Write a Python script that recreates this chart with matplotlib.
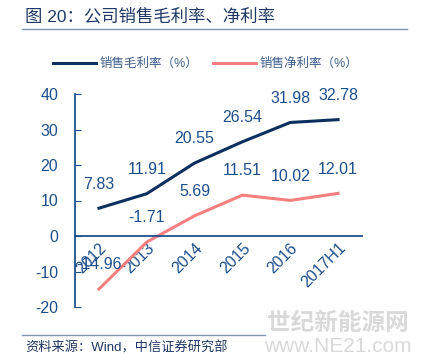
import matplotlib.pyplot as plt
import numpy as np

plt.rcParams['font.family'] = ['Liberation Sans', 'Noto Sans CJK SC', 'DejaVu Sans']
plt.rcParams['axes.unicode_minus'] = False

#---  data  ---
years = ['2012', '2013', '2014', '2015', '2016', '2017H1']
gross = [7.83, 11.91, 20.55, 26.54, 31.98, 32.78]
net = [-14.96, -1.71, 5.69, 11.51, 10.02, 12.01]

dark = '#0b2f5e'
pink = '#f77f7f'
txt = '#1c4f8c'

W, H = 421, 359
fig = plt.figure(figsize=(W/100, H/100), dpi=100)

def fx(px): return px / W
def fy(py): return 1 - py / H

#---  axes  ---
ax = fig.add_axes([fx(75), fy(307), fx(362) - fx(75), fy(94) - fy(307)])
x = np.arange(len(years))
ax.plot(x, gross, color=dark, lw=2.2, label='销售毛利率（%）')
ax.plot(x, net, color=pink, lw=2.2, label='销售净利率（%）')
for i in x:
    ax.annotate(f'{gross[i]:.2f}', (i, gross[i]), xytext=(0, 12), textcoords='offset points',
                ha='center', va='bottom', fontsize=11.5, color=txt)
    ax.annotate(f'{net[i]:.2f}', (i, net[i]), xytext=(0, 12), textcoords='offset points',
                ha='center', va='bottom', fontsize=11.5, color=txt)

for s in ['top', 'right']:
    ax.spines[s].set_visible(False)
ax.spines['bottom'].set_position(('data', 0))
ax.spines['left'].set_color(txt)
ax.spines['bottom'].set_color(txt)
ax.spines['left'].set_linewidth(1.3)
ax.spines['bottom'].set_linewidth(1.3)

ax.set_xlim(-0.5, len(years) - 0.5)
ax.set_ylim(-20, 40)
ax.set_yticks(range(-20, 41, 10))
ax.set_xticks(x)
ax.set_xticklabels(years, rotation=45, ha='right', va='top', rotation_mode='anchor')
ax.tick_params(axis='y', direction='in', length=4, color=txt, labelcolor=txt, labelsize=11.5, pad=12)
ax.tick_params(axis='x', length=0, labelcolor=txt, labelsize=11.5, pad=3)
ax.patch.set_alpha(0)

#---  legend  ---
fig.legend(loc='center left', bbox_to_anchor=(fx(42), fy(64)), ncol=2, frameon=False,
           fontsize=9, handlelength=3.4, columnspacing=1.2, handletextpad=0.3,
           labelcolor='#3f5f8c')

#---  title and footer  ---
fig.text(fx(25), fy(16), '图 20：公司销售毛利率、净利率', fontsize=12.5, color='#1f3864',
         va='center', ha='left')
fig.add_artist(plt.Line2D([fx(22), fx(407)], [fy(29), fy(29)], color='#8095b3', lw=1))
fig.add_artist(plt.Line2D([fx(22), fx(265)], [fy(335), fy(335)], color='#8095b3', lw=1))
fig.text(fx(25), fy(348), '资料来源：Wind，中信证券研究部', fontsize=9.5, color='#1f3864',
         va='center', ha='left')
fig.text(fx(338), fy(323), '世纪新能源网', fontsize=17, color='#d9d9d9',
         va='center', ha='center', fontweight='bold')
fig.text(fx(338), fy(347), 'www.NE21.com', fontsize=15, color='#d9d9d9',
         va='center', ha='center')

plt.savefig('out.png', dpi=100)
